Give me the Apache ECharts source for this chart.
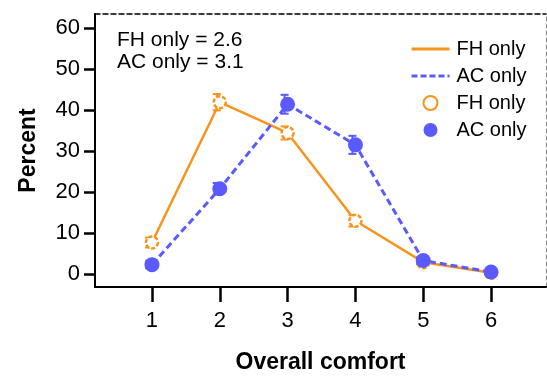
<!DOCTYPE html>
<html>
<head>
<meta charset="utf-8">
<script src="https://cdn.jsdelivr.net/npm/echarts@6/dist/echarts.min.js"></script>
<style>
html,body{margin:0;padding:0;background:#fff;}
#c{width:547px;height:379px;}
</style>
</head>
<body>
<div id="c"></div>
<script>
var categories = [1, 2, 3, 4, 5, 6];
var fhValues = [7.7, 41.9, 34.4, 13.0, 2.9, 0.3];
var acValues = [2.3, 20.8, 41.4, 31.5, 3.3, 0.5];
var fhErr = [1.2, 2.0, 1.6, 1.4, 0.5, 0.3];
var acErr = [0.8, 1.4, 2.3, 2.2, 0.8, 0.5];
var yTicks = [0, 10, 20, 30, 40, 50, 60];
var xTicks = [1, 2, 3, 4, 5, 6];
var fhName = 'FH only';
var acName = 'AC only';
var annot1 = 'FH only = 2.6';
var annot2 = 'AC only = 3.1';

var ORANGE = '#F7941E';
var BLUE = '#5A5AFF';
var FONT = '"Liberation Sans", Arial, sans-serif';

function pairs(vals) { return categories.map(function (c, i) { return [c, vals[i]]; }); }
function errData(vals, errs) { return categories.map(function (c, i) { return [c, vals[i] - errs[i], vals[i] + errs[i]]; }); }

function errRender(color) {
  return function (params, api) {
    var lo = api.coord([api.value(0), api.value(1)]);
    var hi = api.coord([api.value(0), api.value(2)]);
    var x = lo[0] - 3;
    var cap = 4;
    var st = { stroke: color, lineWidth: 2 };
    return {
      type: 'group',
      children: [
        { type: 'line', shape: { x1: x, y1: lo[1], x2: x, y2: hi[1] }, style: st },
        { type: 'line', shape: { x1: x - cap, y1: lo[1], x2: x + cap, y2: lo[1] }, style: st },
        { type: 'line', shape: { x1: x - cap, y1: hi[1], x2: x + cap, y2: hi[1] }, style: st }
      ]
    };
  };
}

var legendMap = { 'fhLine': fhName, 'acLine': acName, 'fhPts': fhName, 'acPts': acName };

var chart = echarts.init(document.getElementById('c'), null, { renderer: 'canvas' });
chart.setOption({
  animation: false,
  backgroundColor: '#fff',
  textStyle: { fontFamily: FONT },
  grid: { left: 95, right: 1, top: 14, bottom: 90, containLabel: false },
  legend: {
    data: [
      { name: 'fhLine', itemStyle: { opacity: 0 }, lineStyle: { width: 3 } },
      { name: 'acLine', itemStyle: { opacity: 0 }, lineStyle: { width: 3, type: [6, 3] } },
      { name: 'fhPts' },
      { name: 'acPts' }
    ],
    orient: 'vertical',
    left: 405,
    top: 34,
    itemWidth: 38,
    itemHeight: 14,
    itemGap: 7,
    selectedMode: false,
    formatter: function (n) { return legendMap[n]; },
    textStyle: { fontSize: 20, color: '#000', fontFamily: FONT, lineHeight: 20, padding: [0, 0, 0, 2] }
  },
  graphic: [
    { type: 'text', left: 117, top: 30, style: { text: annot1, font: '21px ' + FONT, fill: '#000' } },
    { type: 'text', left: 117, top: 52, style: { text: annot2, font: '21px ' + FONT, fill: '#000' } }
  ],
  xAxis: [{
    type: 'value',
    min: 0.16,
    max: 6.81,
    position: 'bottom',
    name: 'Overall comfort',
    nameLocation: 'middle',
    nameGap: 64,
    nameTextStyle: { fontSize: 23, fontWeight: 'bold', color: '#000', fontFamily: FONT },
    splitLine: { show: false },
    axisLine: { show: true, onZero: false, lineStyle: { color: '#000', width: 2 } },
    axisTick: { show: true, customValues: xTicks, length: 15, lineStyle: { color: '#000', width: 2.5 } },
    axisLabel: { show: true, customValues: xTicks, fontSize: 22, color: '#000', margin: 23, fontFamily: FONT }
  }, {
    type: 'value',
    min: 0.16,
    max: 6.81,
    position: 'top',
    splitLine: { show: false },
    axisLine: { show: true, onZero: false, lineStyle: { color: '#000', width: 1.5, type: [5, 3] } },
    axisTick: { show: false },
    axisLabel: { show: false }
  }],
  yAxis: [{
    type: 'value',
    min: -3.15,
    max: 63.4,
    position: 'left',
    name: 'Percent',
    nameLocation: 'middle',
    nameGap: 55,
    nameRotate: 90,
    nameTextStyle: { fontSize: 23, fontWeight: 'bold', color: '#000', fontFamily: FONT },
    splitLine: { show: false },
    axisLine: { show: true, onZero: false, lineStyle: { color: '#000', width: 2 } },
    axisTick: { show: true, customValues: yTicks, length: 11, lineStyle: { color: '#000', width: 2.5 } },
    axisLabel: { show: true, customValues: yTicks, fontSize: 22, color: '#000', margin: 15, fontFamily: FONT }
  }, {
    type: 'value',
    min: -3.15,
    max: 63.4,
    position: 'right',
    splitLine: { show: false },
    axisLine: { show: true, onZero: false, lineStyle: { color: '#888', width: 1, type: [4, 3] } },
    axisTick: { show: false },
    axisLabel: { show: false }
  }],
  series: [
    {
      name: 'fhLine', type: 'line', data: pairs(fhValues), symbol: 'none', z: 2,
      lineStyle: { color: ORANGE, width: 2.5, type: 'solid' }, itemStyle: { color: ORANGE }
    },
    {
      name: 'acLine', type: 'line', data: pairs(acValues), symbol: 'none', z: 3,
      lineStyle: { color: BLUE, width: 3, type: [7, 4] }, itemStyle: { color: BLUE }
    },
    {
      name: 'fhErr', type: 'custom', data: errData(fhValues, fhErr), z: 4,
      renderItem: errRender(ORANGE), encode: { x: 0, y: [1, 2] }
    },
    {
      name: 'acErr', type: 'custom', data: errData(acValues, acErr), z: 4,
      renderItem: errRender(BLUE), encode: { x: 0, y: [1, 2] }
    },
    {
      name: 'fhPts', type: 'scatter', data: pairs(fhValues), symbol: 'circle', symbolSize: 12, z: 5,
      itemStyle: { color: '#fff', borderColor: ORANGE, borderWidth: 2.5, borderType: [4, 2], opacity: 1 }
    },
    {
      name: 'acPts', type: 'scatter', data: pairs(acValues), symbol: 'circle', symbolSize: 15, z: 6,
      itemStyle: { color: BLUE, opacity: 1 }
    }
  ]
});
</script>
</body>
</html>
